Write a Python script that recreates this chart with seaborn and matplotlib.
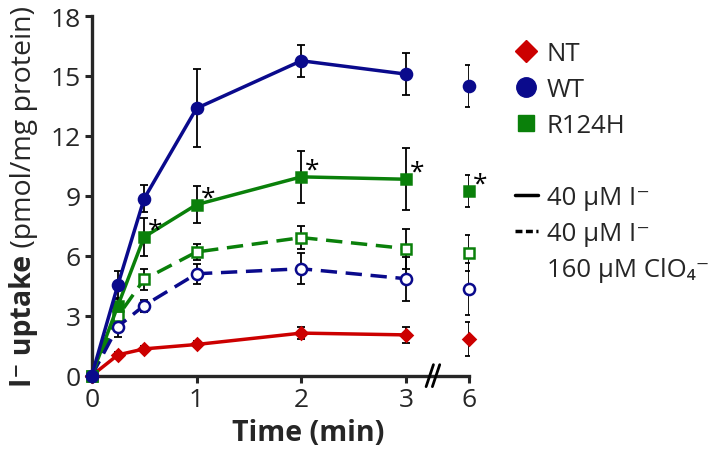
import matplotlib
matplotlib.use("Agg")
import matplotlib.pyplot as plt
import seaborn as sns
import pandas as pd
from matplotlib.lines import Line2D

# Iodide uptake time course, mean and error per time point (min)
times = [0, 0.25, 0.5, 1, 2, 3]
late_time = 6

nt_mean = [0, 1.04, 1.34, 1.56, 2.13, 2.04]
nt_err = [0, 0.15, 0.12, 0.15, 0.30, 0.40]
nt_late, nt_late_err = 1.84, 0.85

wt_mean = [0, 4.55, 8.86, 13.38, 15.76, 15.09]
wt_err = [0, 0.70, 0.67, 1.95, 0.80, 1.05]
wt_late, wt_late_err = 14.50, 1.04

r124h_mean = [0, 3.51, 6.94, 8.56, 9.95, 9.83]
r124h_err = [0, 0.40, 0.97, 0.94, 1.30, 1.55]
r124h_late, r124h_late_err = 9.23, 0.80

# with 160 uM perchlorate
wt_clo4_mean = [0, 2.46, 3.51, 5.10, 5.35, 4.85]
wt_clo4_err = [0, 0.53, 0.30, 0.50, 0.77, 1.10]
wt_clo4_late, wt_clo4_late_err = 4.32, 1.30

r124h_clo4_mean = [0, 2.98, 4.82, 6.19, 6.91, 6.36]
r124h_clo4_err = [0, 0.40, 0.53, 0.40, 0.57, 1.00]
r124h_clo4_late, r124h_clo4_late_err = 6.16, 0.90

# R124H points marked significant
star_times = [0.5, 1, 2, 3, 6]

xtick_times = [0, 1, 2, 3, 6]
ytick_vals = [0, 3, 6, 9, 12, 15, 18]

RED = "#CC0000"
BLUE = "#0A0A8C"
GREEN = "#0A800A"


def xpos(t):
    # broken axis: everything after 3 min is compressed
    return t if t <= 3 else 3 + (t - 3) * 0.2


sns.set_style("ticks")
plt.rcParams["font.family"] = ["Open Sans", "DejaVu Sans"]

fig = plt.figure(figsize=(7.25, 4.56), dpi=100)
ax = fig.add_axes([0.1265, 0.174, 0.5205, 0.7887])

series = [
    # mean, err, late, late_err, color, marker, ms, filled, dashed
    (nt_mean, nt_err, nt_late, nt_late_err, RED, "D", 6.5, True, False),
    (r124h_clo4_mean, r124h_clo4_err, r124h_clo4_late, r124h_clo4_late_err, GREEN, "s", 7.5, False, True),
    (wt_clo4_mean, wt_clo4_err, wt_clo4_late, wt_clo4_late_err, BLUE, "o", 8, False, True),
    (r124h_mean, r124h_err, r124h_late, r124h_late_err, GREEN, "s", 7.5, True, False),
    (wt_mean, wt_err, wt_late, wt_late_err, BLUE, "o", 8, True, False),
]

for mean, err, late, late_err, color, marker, ms, filled, dashed in series:
    df = pd.DataFrame({"x": [xpos(t) for t in times], "y": mean})
    face = color if filled else "white"
    ls = (0, (4.7, 2.5)) if dashed else "-"
    sns.lineplot(data=df, x="x", y="y", ax=ax, color=color, linestyle=ls,
                 linewidth=2.5, marker=marker, markersize=ms,
                 markerfacecolor=face, markeredgecolor=color,
                 markeredgewidth=1.8, clip_on=False, zorder=3)
    ax.errorbar([xpos(t) for t in times], mean, yerr=err, fmt="none",
                ecolor="black", elinewidth=1.3, capsize=3, capthick=1.3,
                zorder=2.5, clip_on=False)
    ax.errorbar([xpos(late_time)], [late], yerr=[late_err], fmt="none",
                ecolor="black", elinewidth=1.3, capsize=3, capthick=1.3,
                zorder=2.5)
    ax.plot([xpos(late_time)], [late], linestyle="none", marker=marker,
            markersize=ms, markerfacecolor=face, markeredgecolor=color,
            markeredgewidth=1.8, zorder=3, clip_on=False)

# significance stars next to R124H points
r124h_all = dict(zip(times, r124h_mean))
r124h_all[late_time] = r124h_late
for t in star_times:
    ax.annotate("*", xy=(xpos(t), r124h_all[t]), xytext=(8, -4),
                textcoords="offset points", ha="center", va="bottom",
                fontsize=19, color="black")

ax.set_xlim(0, xpos(late_time))
ax.set_ylim(0, 18)
ax.set_xticks([xpos(t) for t in xtick_times])
ax.set_xticklabels([str(t) for t in xtick_times])
ax.set_yticks(ytick_vals)
ax.tick_params(labelsize=19, width=2.2, length=5, pad=3)
sns.despine(ax=ax)
for side in ["left", "bottom"]:
    ax.spines[side].set_linewidth(2.4)

# axis break marks
for bx in [3.225, 3.285]:
    ax.plot([bx - 0.035, bx + 0.035], [-0.55, 0.55], color="black",
            linewidth=2.0, clip_on=False, zorder=4)

ax.set_xlabel("Time (min)", fontsize=20.5, fontweight="bold")
ax.xaxis.set_label_coords(0.573, -0.118)
ax.set_ylabel("")

# y label: bold part + normal part, centred on the axes
renderer = fig.canvas.get_renderer()
t1 = fig.text(0.043, 0.0, "I\u207b uptake", rotation=90, rotation_mode="anchor",
              ha="left", va="baseline", fontsize=20.5, fontweight="bold")
t2 = fig.text(0.043, 0.0, " (pmol/mg protein)", rotation=90, rotation_mode="anchor",
              ha="left", va="baseline", fontsize=20.5)
h1 = t1.get_window_extent(renderer).height
h2 = t2.get_window_extent(renderer).height
fig_h = fig.get_figheight() * fig.dpi
center = (ax.get_position().y0 + ax.get_position().y1) / 2 * fig_h
start = center - (h1 + h2) / 2
t1.set_y(start / fig_h)
t2.set_y((start + h1) / fig_h)

# legend
blank = Line2D([], [], linestyle="none")
handles = [
    Line2D([], [], marker="D", color=RED, linestyle="none", markersize=11),
    Line2D([], [], marker="o", color=BLUE, linestyle="none", markersize=14),
    Line2D([], [], marker="s", color=GREEN, linestyle="none", markersize=12),
    blank,
    Line2D([], [], color="black", linewidth=2.5),
    Line2D([], [], color="black", linewidth=2.5, linestyle=(0, (2, 1))),
    blank,
]
labels = ["NT", "WT", "R124H", "", "40 \u00b5M I\u207b", "40 \u00b5M I\u207b",
          "160 \u00b5M ClO\u2084\u207b"]
fig.legend(handles, labels, loc="upper left", bbox_to_anchor=(0.71, 0.908),
           frameon=False, fontsize=18.5, handlelength=0.9, handletextpad=0.35,
           labelspacing=0.43, borderpad=0, borderaxespad=0)

fig.savefig("out.png", dpi=100)
